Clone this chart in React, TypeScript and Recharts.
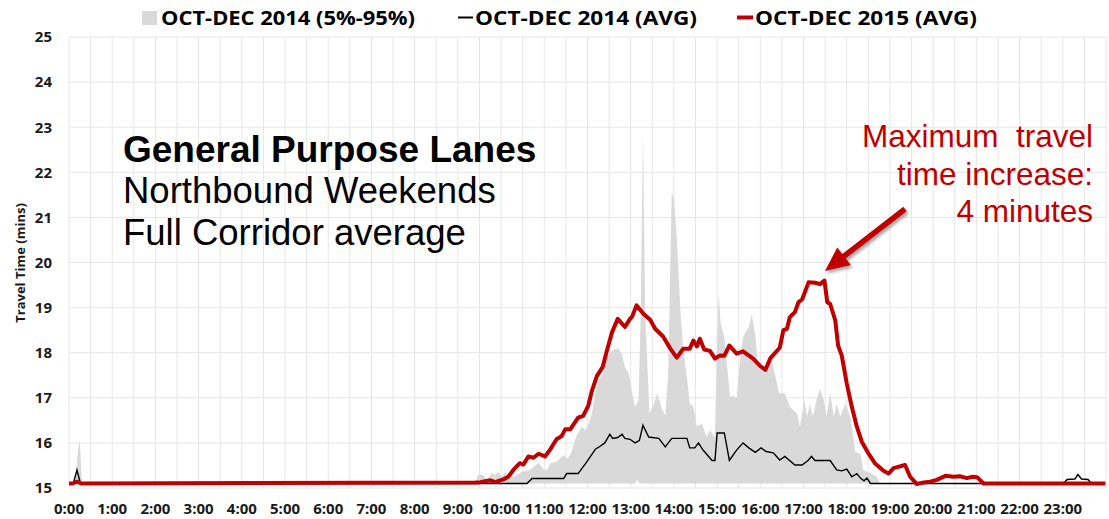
import React from "react";
import { ComposedChart, Line, Area, XAxis, YAxis, CartesianGrid } from "recharts";

const W = 1109;
const H = 519;

// x values are minutes after midnight
const hourLabels = [
  "0:00", "1:00", "2:00", "3:00", "4:00", "5:00", "6:00", "7:00", "8:00", "9:00", "10:00", "11:00",
  "12:00", "13:00", "14:00", "15:00", "16:00", "17:00", "18:00", "19:00", "20:00", "21:00", "22:00", "23:00",
];
const yTicks = [15, 16, 17, 18, 19, 20, 21, 22, 23, 24, 25];
const legendLabels = ["OCT-DEC 2014 (5%-95%)", "OCT-DEC 2014 (AVG)", "OCT-DEC 2015 (AVG)"];

// [minute, 5th pct, 95th pct]
const band2014: [number, number, number][] = [
  [0, 15.1, 15.1], [8, 15.1, 15.1], [13, 15.1, 15.9], [15, 15.1, 16.06], [18, 15.1, 15.1],
  [564, 15.1, 15.1], [568, 15.1, 15.29], [575, 15.1, 15.29], [581, 15.1, 15.17], [587, 15.1, 15.34],
  [592, 15.1, 15.28], [596, 15.1, 15.36], [601, 15.1, 15.25], [606, 15.1, 15.36], [610, 15.1, 15.19],
  [622, 15.1, 15.29], [629, 15.1, 15.36], [640, 15.1, 15.4], [652, 15.1, 15.56], [659, 15.1, 15.41],
  [664, 15.1, 15.4], [668, 15.1, 15.55], [677, 15.1, 15.58], [687, 15.1, 15.73], [691, 15.1, 15.65],
  [696, 15.1, 15.73], [700, 15.1, 15.91], [704, 15.1, 16.13], [712, 15.1, 16.36], [717, 15.1, 16.28],
  [721, 15.1, 16.4], [726, 15.1, 16.65], [731, 15.1, 17.1], [735, 15.1, 17.39], [742, 15.1, 17.54],
  [747, 15.1, 17.9], [756, 15.1, 18.07], [763, 15.1, 18.09], [768, 15.1, 17.95], [772, 15.1, 17.68],
  [777, 15.1, 17.54], [782, 15.1, 17.1], [786, 15.1, 16.8], [789, 15.18, 16.9], [791, 15.12, 16.95],
  [794, 15.1, 18.94], [797, 15.1, 22.9], [800, 15.1, 18.94], [806, 15.1, 16.65], [812, 15.1, 16.87],
  [817, 15.1, 17.1], [823, 15.1, 16.76], [828, 15.1, 16.61], [832, 15.1, 17.5], [837, 15.1, 21.56],
  [840, 15.1, 21.4], [844, 15.1, 20.56], [849, 15.1, 18.94], [853, 15.1, 18.05], [858, 15.1, 17.46],
  [862, 15.1, 16.87], [867, 15.1, 16.8], [872, 15.1, 16.36], [879, 15.1, 16.43], [885, 15.1, 16.13],
  [890, 15.1, 16.28], [897, 15.1, 16.13], [900, 15.1, 18.2], [902, 15.1, 19.34], [905, 15.1, 18.64],
  [910, 15.1, 18.35], [913, 15.1, 17.83], [918, 15.1, 17.02], [922, 15.1, 17.05], [927, 15.1, 17.0],
  [932, 15.1, 17.85], [936, 15.1, 18.35], [941, 15.1, 18.5], [944, 15.1, 18.57], [948, 15.1, 18.86],
  [953, 15.1, 18.4], [957, 15.1, 17.68], [964, 15.1, 17.6], [969, 15.1, 17.57], [976, 15.1, 17.83],
  [983, 15.1, 17.32], [986, 15.1, 17.1], [994, 15.1, 17.1], [1001, 15.1, 16.8], [1011, 15.1, 16.65],
  [1015, 15.1, 16.36], [1021, 15.1, 16.95], [1025, 15.1, 16.58], [1029, 15.1, 16.87], [1033, 15.1, 16.58],
  [1038, 15.1, 16.95], [1043, 15.1, 17.2], [1048, 15.1, 16.95], [1052, 15.1, 16.58], [1057, 15.1, 17.1],
  [1062, 15.1, 16.58], [1066, 15.1, 16.87], [1071, 15.1, 16.58], [1078, 15.1, 16.87], [1085, 15.1, 16.58],
  [1092, 15.1, 15.8], [1099, 15.1, 15.76], [1103, 15.1, 15.4], [1113, 15.1, 15.33], [1122, 15.1, 15.25],
  [1126, 15.1, 15.1], [1439, 15.1, 15.1],
];

// [minute, avg travel time]
const avg2014: [number, number][] = [
  [0, 15.1], [6, 15.1], [11, 15.4], [16, 15.1], [636, 15.1], [643, 15.21], [687, 15.21], [691, 15.32],
  [707, 15.32], [719, 15.58], [731, 15.86], [737, 15.92], [744, 16.0], [751, 16.19], [755, 16.1],
  [762, 16.12], [768, 16.19], [772, 16.1], [779, 16.08], [786, 16.0], [792, 16.05], [797, 16.39],
  [805, 16.13], [819, 16.1], [828, 15.91], [837, 16.1], [858, 16.1], [862, 15.89], [869, 15.89],
  [874, 16.0], [881, 15.83], [893, 15.61], [897, 15.61], [900, 16.22], [910, 16.22], [917, 15.61],
  [927, 15.84], [936, 16.0], [944, 15.89], [953, 15.79], [961, 15.89], [968, 15.81], [978, 15.78],
  [987, 15.62], [994, 15.7], [1008, 15.51], [1018, 15.51], [1027, 15.62], [1031, 15.7], [1036, 15.61],
  [1057, 15.61], [1066, 15.4], [1073, 15.38], [1080, 15.42], [1087, 15.25], [1094, 15.32], [1099, 15.22],
  [1104, 15.16], [1108, 15.22], [1113, 15.1], [1381, 15.1], [1386, 15.19], [1397, 15.2], [1401, 15.3],
  [1406, 15.2], [1415, 15.19], [1420, 15.1], [1439, 15.1],
];

const avg2015: [number, number][] = [
  [0, 15.1], [5, 15.1], [11, 15.14], [17, 15.1], [564, 15.12], [571, 15.13], [585, 15.17], [592, 15.13],
  [603, 15.19], [610, 15.25], [617, 15.4], [626, 15.55], [631, 15.52], [638, 15.7], [645, 15.67],
  [652, 15.76], [661, 15.7], [668, 15.85], [677, 16.08], [684, 16.15], [689, 16.3], [696, 16.3],
  [707, 16.56], [714, 16.6], [721, 16.82], [726, 17.15], [733, 17.48], [741, 17.68], [747, 18.05],
  [754, 18.45], [762, 18.75], [772, 18.57], [779, 18.75], [782, 18.8], [788, 19.05], [798, 18.86],
  [807, 18.73], [814, 18.53], [825, 18.36], [835, 18.09], [844, 17.89], [853, 18.09], [862, 18.09],
  [867, 18.27], [872, 18.14], [876, 18.31], [882, 18.07], [890, 18.04], [897, 17.87], [904, 17.94],
  [910, 17.93], [917, 18.16], [927, 17.98], [936, 18.03], [950, 17.87], [960, 17.7], [967, 17.62],
  [974, 17.88], [987, 18.11], [992, 18.5], [997, 18.53], [1001, 18.79], [1008, 18.9], [1013, 19.12],
  [1018, 19.18], [1027, 19.56], [1036, 19.55], [1043, 19.52], [1049, 19.6], [1053, 19.12], [1057, 19.08],
  [1064, 18.72], [1068, 18.16], [1073, 17.94], [1080, 17.32], [1087, 16.8], [1094, 16.36], [1101, 16.02],
  [1110, 15.77], [1119, 15.55], [1131, 15.38], [1138, 15.32], [1145, 15.44], [1161, 15.51], [1168, 15.25],
  [1177, 15.09], [1187, 15.12], [1196, 15.14], [1205, 15.18], [1217, 15.27], [1228, 15.25], [1237, 15.26],
  [1247, 15.22], [1255, 15.25], [1261, 15.24], [1270, 15.1], [1439, 15.1],
];

const bandData = band2014.map(([t, lo, hi]) => ({ t, range: [lo, hi] }));
const avg2014Data = avg2014.map(([t, v]) => ({ t, v }));
const avg2015Data = avg2015.map(([t, v]) => ({ t, v }));

// half-hour grid, labels on the hour
const gridTicks = Array.from({ length: 49 }, (_, i) => i * 30);
const fmtTick = (v: number) => (v % 60 === 0 && hourLabels[v / 60] ? hourLabels[v / 60] : "");

const RED = "#c00000";
const GRAY = "#d9d9d9";
const tickFont = { fill: "#1a1a1a", fontSize: 15, fontWeight: 700, fontFamily: "'Open Sans', sans-serif" };

function Arrow({ x1, y1, x2, y2 }: { x1: number; y1: number; x2: number; y2: number }) {
  const dx = x2 - x1;
  const dy = y2 - y1;
  const len = Math.hypot(dx, dy);
  const ux = dx / len;
  const uy = dy / len;
  const head = 24;
  const half = 11;
  const bx = x2 - ux * head;
  const by = y2 - uy * head;
  const pts = `${x2},${y2} ${bx - uy * half},${by + ux * half} ${bx + uy * half},${by - ux * half}`;
  return (
    <g filter="url(#arrowShadow)">
      <line x1={x1} y1={y1} x2={bx + ux * 2} y2={by + uy * 2} stroke={RED} strokeWidth={5.5} />
      <polygon points={pts} fill={RED} />
    </g>
  );
}

function Overlay() {
  const legendFont = { fontFamily: "'Open Sans', sans-serif", fontWeight: 700, fontSize: 19 };
  return (
    <svg width={W} height={H} style={{ position: "absolute", left: 0, top: 0, pointerEvents: "none" }}>
      <defs>
        <filter id="arrowShadow" x="-20%" y="-20%" width="150%" height="150%">
          <feDropShadow dx="2" dy="2.5" stdDeviation="1.5" floodColor="#000" floodOpacity="0.35" />
        </filter>
      </defs>

      {/* legend */}
      <rect x={142} y={11} width={15} height={14} fill={GRAY} />
      <text x={161} y={25} textLength={254} lengthAdjust="spacingAndGlyphs" {...legendFont}>{legendLabels[0]}</text>
      <line x1={458} y1={17.5} x2={473} y2={17.5} stroke="#000" strokeWidth={2} />
      <text x={475} y={25} textLength={222} lengthAdjust="spacingAndGlyphs" {...legendFont}>{legendLabels[1]}</text>
      <line x1={737} y1={17.5} x2={753} y2={17.5} stroke={RED} strokeWidth={4} />
      <text x={755} y={25} textLength={222} lengthAdjust="spacingAndGlyphs" {...legendFont}>{legendLabels[2]}</text>

      {/* axis title */}
      <text
        transform="translate(25,263) rotate(-90)"
        textAnchor="middle"
        fontFamily="'Open Sans', sans-serif"
        fontWeight={700}
        fontSize={13}
        fill="#1a1a1a"
      >
        Travel Time (mins)
      </text>

      {/* chart title block */}
      <g fontFamily="'Liberation Sans', Arial, sans-serif" fill="#000">
        <text x={123} y={162} fontSize={37} fontWeight={700}>General Purpose Lanes</text>
        <text x={123} y={203} fontSize={36.5}>Northbound Weekends</text>
        <text x={123} y={245} fontSize={36.5}>Full Corridor average</text>
      </g>

      {/* max increase callout */}
      <g fontFamily="'Liberation Sans', Arial, sans-serif" fill={RED} fontSize={31.5} textAnchor="end">
        <text x={1093} y={147}>{"Maximum\u00a0 travel"}</text>
        <text x={1093} y={185}>time increase:</text>
        <text x={1093} y={222}>4 minutes</text>
      </g>
      <Arrow x1={905} y1={209} x2={825} y2={271} />
    </svg>
  );
}

export default function App() {
  return (
    <div style={{ position: "absolute", left: 0, top: 0, width: W, height: H, background: "#fff" }}>
      <ComposedChart width={W} height={H} margin={{ top: 37, right: 3, bottom: 1, left: 0 }}>
        <CartesianGrid stroke="#e6e6e6" strokeWidth={1} />
        <XAxis
          type="number"
          dataKey="t"
          domain={[0, 1440]}
          ticks={gridTicks}
          interval={0}
          tickFormatter={fmtTick}
          axisLine={false}
          tickLine={false}
          tickMargin={9}
          height={30}
          tick={tickFont}
        />
        <YAxis
          type="number"
          domain={[15, 25]}
          ticks={yTicks}
          interval={0}
          axisLine={false}
          tickLine={false}
          tickMargin={11}
          width={69}
          tick={tickFont}
        />
        <Area
          data={bandData}
          dataKey="range"
          type="linear"
          stroke="none"
          fill={GRAY}
          fillOpacity={1}
          isAnimationActive={false}
          dot={false}
          activeDot={false}
        />
        <Line
          data={avg2014Data}
          dataKey="v"
          type="linear"
          stroke="#000"
          strokeWidth={1.4}
          dot={false}
          activeDot={false}
          isAnimationActive={false}
        />
        <Line
          data={avg2015Data}
          dataKey="v"
          type="linear"
          stroke={RED}
          strokeWidth={4}
          strokeLinejoin="round"
          dot={false}
          activeDot={false}
          isAnimationActive={false}
        />
      </ComposedChart>
      <Overlay />
    </div>
  );
}
